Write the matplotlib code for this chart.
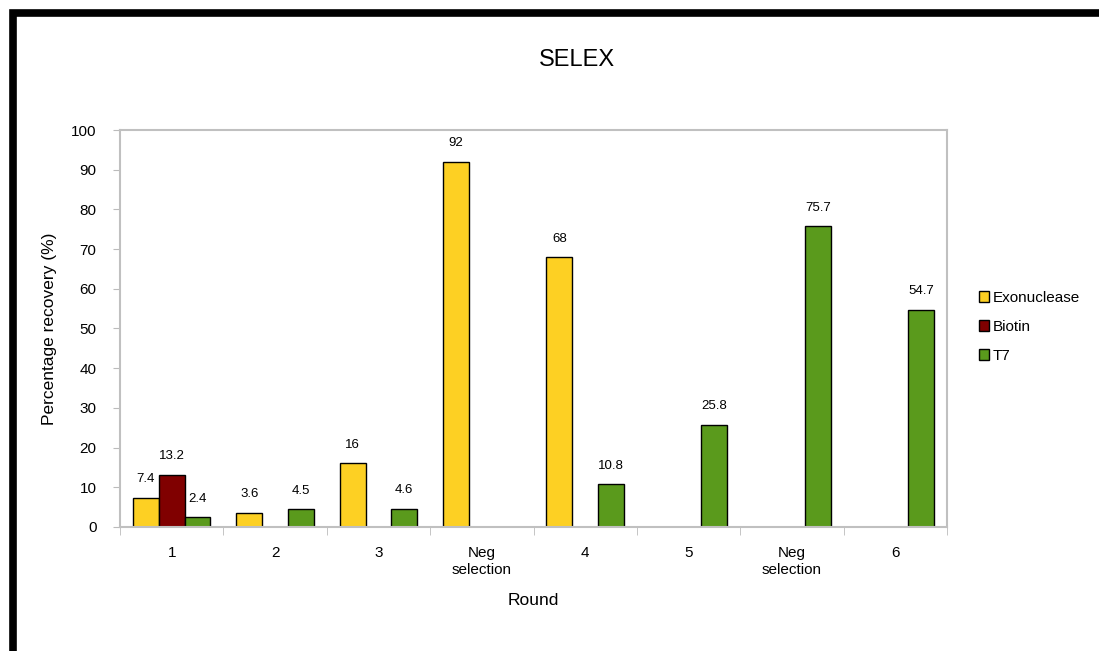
import matplotlib
import matplotlib.pyplot as plt
from matplotlib.patches import Rectangle
import numpy as np

matplotlib.use('Agg')
plt.rcParams['font.family'] = ['Liberation Sans', 'DejaVu Sans']

rounds = ['1', '2', '3', 'Neg\nselection', '4', '5', 'Neg\nselection', '6']
exonuclease = [7.4, 3.6, 16, 92, 68, np.nan, np.nan, np.nan]
biotin = [13.2, np.nan, np.nan, np.nan, np.nan, np.nan, np.nan, np.nan]
t7 = [2.4, 4.5, 4.6, np.nan, 10.8, 25.8, 75.7, 54.7]

series = [
    ('Exonuclease', exonuclease, '#FDD023'),
    ('Biotin', biotin, '#800000'),
    ('T7', t7, '#5A9A1C'),
]

fig = plt.figure(figsize=(10.99, 6.51), dpi=100)
ax = fig.add_axes([0.1092, 0.1905, 0.7525, 0.6098])

# black frame around the picture (cut off at right and bottom)
fig.patches.append(Rectangle((0.0114, -0.05), 1.1, 0.9793 + 0.05,
                             transform=fig.transFigure, fill=False,
                             edgecolor='black', linewidth=5.5, zorder=10))

x = np.arange(len(rounds))
w = 0.25
offsets = [-w, 0, w]
for (name, vals, col), off in zip(series, offsets):
    bars = ax.bar(x + off, vals, w, color=col, edgecolor='black', linewidth=1, label=name)
    labels = ['' if np.isnan(v) else ('%g' % v) for v in vals]
    ax.bar_label(bars, labels=labels, padding=9, fontsize=9.5)

ax.set_xlim(-0.5, len(rounds) - 0.5)
ax.set_ylim(0, 100)
ax.set_yticks(range(0, 101, 10))
ax.set_xticks(x)
ax.set_xticklabels(rounds, fontsize=11)
ax.set_xticks(np.arange(-0.5, len(rounds), 1), minor=True)
ax.tick_params(axis='x', which='major', length=0, pad=14)
ax.tick_params(axis='x', which='minor', length=6, color='#BBBBBB', direction='out')
ax.tick_params(axis='y', length=5, color='#BBBBBB', direction='out', labelsize=11, pad=12)

for s in ax.spines.values():
    s.set_color('#C0C0C0')
    s.set_linewidth(1.5)

fig.text(0.525, 0.908, 'SELEX', fontsize=17, ha='center', va='center')
ax.set_ylabel('Percentage recovery (%)', fontsize=12.5, labelpad=10)
ax.set_xlabel('Round', fontsize=12.5, labelpad=12)

fig.legend(loc='center left', bbox_to_anchor=(0.878, 0.498), frameon=False,
           fontsize=11, handlelength=0.7, handleheight=0.7, handletextpad=0.2,
           labelspacing=1.0)

fig.savefig('out.png', dpi=100)
